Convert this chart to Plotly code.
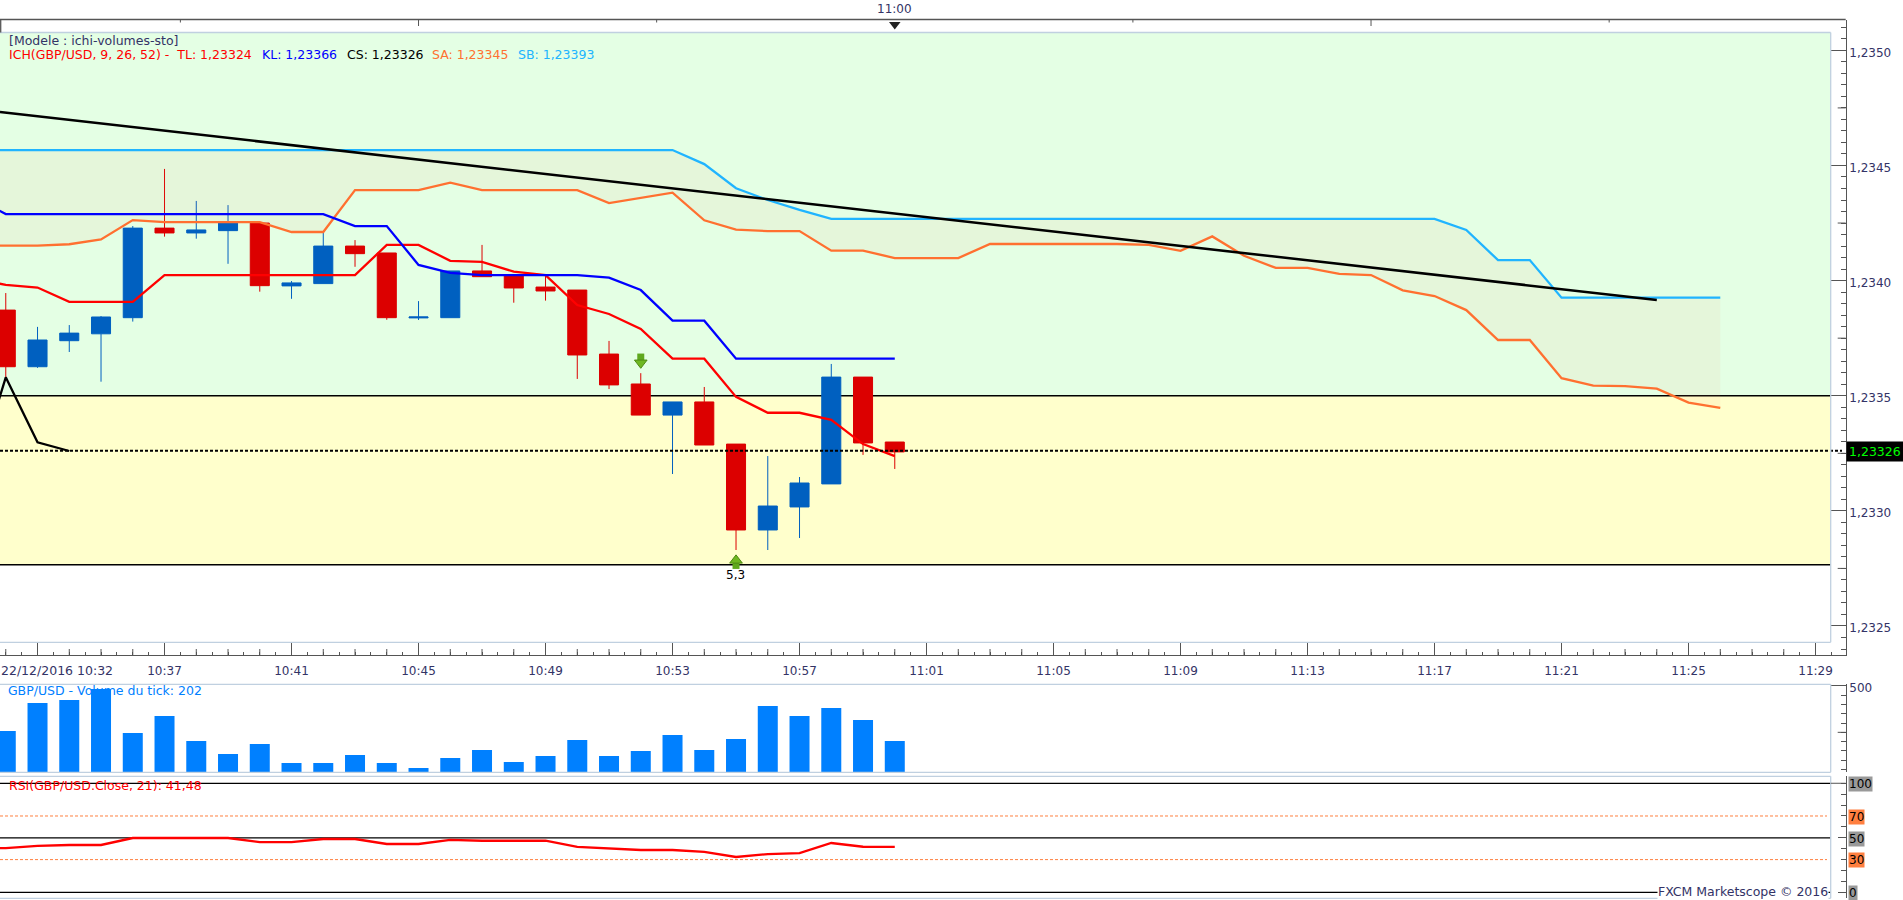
import pandas as pd
import plotly.graph_objects as go

W = 1903
H = 900
TEXT = "#333366"
AXIS = "#555555"
BORDER = "#C0D0E0"
FONT = "DejaVu Sans"

# candles, one per minute from 10:32 to 11:00
candle_open = [1.233872, 1.233626, 1.233739, 1.233769, 1.233839, 1.234228, 1.234207, 1.234217, 1.234250, 1.233977,
               1.233987, 1.234150, 1.234120, 1.233838, 1.233839, 1.234042, 1.234024, 1.233972, 1.233959, 1.233681,
               1.233551, 1.233416, 1.233473, 1.233290, 1.232917, 1.233017, 1.233117, 1.233581, 1.233299]
candle_high = [1.233946, 1.233799, 1.233807, 1.233846, 1.234237, 1.234485, 1.234346, 1.234328, 1.234250, 1.233998,
               1.234211, 1.234176, 1.234120, 1.233911, 1.234042, 1.234155, 1.234024, 1.234024, 1.233959, 1.233738,
               1.233598, 1.233473, 1.233538, 1.233290, 1.233238, 1.233147, 1.233638, 1.233581, 1.233299]
candle_low = [1.233568, 1.233621, 1.233690, 1.233561, 1.233822, 1.234191, 1.234182, 1.234073, 1.233952, 1.233921,
              1.233987, 1.234060, 1.233830, 1.233829, 1.233839, 1.234017, 1.233904, 1.233913, 1.233573, 1.233529,
              1.233416, 1.233160, 1.233286, 1.232830, 1.232830, 1.232882, 1.233117, 1.233243, 1.233182]
candle_close = [1.233626, 1.233742, 1.233772, 1.233842, 1.234228, 1.234207, 1.234220, 1.234250, 1.233978, 1.233990,
                1.234150, 1.234117, 1.233839, 1.233842, 1.234042, 1.234017, 1.233968, 1.233955, 1.233677, 1.233547,
                1.233416, 1.233473, 1.233286, 1.232917, 1.233021, 1.233121, 1.233581, 1.233295, 1.233256]

# ichimoku lines, first point 10:31 is off the left edge
tenkan = [1.234011, 1.233981, 1.233970, 1.233908, 1.233908, 1.233908, 1.234024, 1.234024, 1.234024, 1.234024,
          1.234024, 1.234024, 1.234024, 1.234155, 1.234155, 1.234086, 1.234081, 1.234039, 1.234024, 1.233894,
          1.233855, 1.233790, 1.233661, 1.233661, 1.233495, 1.233426, 1.233426, 1.233395, 1.233290, 1.233238]
kijun = [1.234363, 1.234289, 1.234289, 1.234289, 1.234289, 1.234289, 1.234289, 1.234289, 1.234289, 1.234289,
         1.234289, 1.234289, 1.234237, 1.234237, 1.234068, 1.234034, 1.234024, 1.234024, 1.234024, 1.234024,
         1.234013, 1.233959, 1.233826, 1.233826, 1.233661, 1.233661, 1.233661, 1.233661, 1.233661, 1.233661]
chikou = [1.233130, 1.233580, 1.233298, 1.233260]
senkou_a = [1.234152, 1.234152, 1.234152, 1.234158, 1.234179, 1.234263, 1.234254, 1.234254, 1.234254, 1.234254,
            1.234211, 1.234211, 1.234393, 1.234393, 1.234393, 1.234425, 1.234393, 1.234393, 1.234393, 1.234393,
            1.234337, 1.234359, 1.234382, 1.234262, 1.234221, 1.234215, 1.234215, 1.234130, 1.234130, 1.234098,
            1.234098, 1.234098, 1.234159, 1.234159, 1.234159, 1.234159, 1.234159, 1.234155, 1.234129, 1.234192,
            1.234108, 1.234055, 1.234055, 1.234029, 1.234024, 1.233958, 1.233933, 1.233872, 1.233742, 1.233742,
            1.233576, 1.233544, 1.233542, 1.233531, 1.233470, 1.233447]
senkou_b = [1.234567, 1.234567, 1.234567, 1.234567, 1.234567, 1.234567, 1.234567, 1.234567, 1.234567, 1.234567,
            1.234567, 1.234567, 1.234567, 1.234567, 1.234567, 1.234567, 1.234567, 1.234567, 1.234567, 1.234567,
            1.234567, 1.234567, 1.234567, 1.234506, 1.234401, 1.234350, 1.234307, 1.234268, 1.234268, 1.234268,
            1.234268, 1.234268, 1.234268, 1.234268, 1.234268, 1.234268, 1.234268, 1.234268, 1.234268, 1.234268,
            1.234268, 1.234268, 1.234268, 1.234268, 1.234268, 1.234268, 1.234268, 1.234220, 1.234089, 1.234089,
            1.233926, 1.233926, 1.233926, 1.233926, 1.233926, 1.233926]
trend_times = ["2016-12-22 10:31:49", "2016-12-22 11:24:00"]
trend_prices = [1.234732, 1.233916]

volume = [257, 408, 424, 484, 246, 338, 203, 133, 187, 85, 85, 128, 85, 58, 112, 155, 90, 122, 209, 122,
          149, 236, 155, 214, 392, 338, 381, 317, 203]
rsi = [40.6, 40.6, 42.5, 43.4, 43.4, 49.8, 49.8, 49.8, 49.8, 46.1, 46.1, 48.9, 48.9, 44.3, 44.3, 48.0, 47.3, 47.3,
       47.3, 41.6, 40.3, 38.8, 38.8, 37.0, 32.4, 35.1, 36.0, 45.2, 41.8, 41.6]

current_price = 1.233261
zone_levels = [1.2335, 1.232766]
zone_top = 1.235077
price_ticks = [1.2325, 1.2330, 1.2335, 1.2340, 1.2345, 1.2350]
price_labels = ["1,2325", "1,2330", "1,2335", "1,2340", "1,2345", "1,2350"]
price_mid_ticks = [1.23275, 1.23325, 1.23375, 1.23425, 1.23475]
time_labels = ["", "10:37", "10:41", "10:45", "10:49", "10:53", "10:57", "11:01", "11:05", "11:09",
               "11:13", "11:17", "11:21", "11:25", "11:29"]

bars = pd.date_range("2016-12-22 10:32", periods=29, freq="min")
lines = pd.date_range("2016-12-22 10:31", periods=30, freq="min")
cloud = pd.date_range("2016-12-22 10:31", periods=56, freq="min")
major = pd.date_range("2016-12-22 10:33", periods=15, freq="4min")
x_range = ["2016-12-22 10:31:49.1", "2016-12-22 11:29:57"]


def px_x(x):
    return x / W


def px_y(y):
    return 1 - y / H


def dom(top, bottom):
    return [px_y(bottom), px_y(top)]


fig = go.Figure()

# cloud, then the ichimoku lines
fig.add_trace(go.Scatter(x=cloud, y=senkou_a, mode="lines", line=dict(color="#FF7030", width=2.3)))
fig.add_trace(go.Scatter(x=cloud, y=senkou_b, mode="lines", line=dict(color="#20B4FF", width=2.3),
                         fill="tonexty", fillcolor="rgba(248,127,100,0.07)"))
fig.add_trace(go.Scatter(x=lines, y=tenkan, mode="lines", line=dict(color="#FF0000", width=2.3)))
fig.add_trace(go.Scatter(x=lines, y=kijun, mode="lines", line=dict(color="#0000FF", width=2.3)))
fig.add_trace(go.Scatter(x=lines[:4], y=chikou, mode="lines", line=dict(color="#000000", width=2.3)))

fig.add_trace(go.Candlestick(x=bars, open=candle_open, high=candle_high, low=candle_low, close=candle_close,
                             increasing=dict(line=dict(color="#0060C0", width=1), fillcolor="#0060C0"),
                             decreasing=dict(line=dict(color="#DC0000", width=1), fillcolor="#DC0000")))

fig.add_trace(go.Scatter(x=[x_range[0], "2016-12-22 11:29:50"], y=[current_price, current_price], mode="lines",
                         line=dict(color="#000000", width=2, dash="3px,2px")))
fig.add_trace(go.Scatter(x=trend_times, y=trend_prices, mode="lines", line=dict(color="#000000", width=2.5)))

# signal arrows, head + shaft
signal_times = ["2016-12-22 10:52", "2016-12-22 10:55"]
fig.add_trace(go.Scatter(x=signal_times, y=[1.233668, 1.232763], mode="markers",
                         marker=dict(symbol="square", size=7, color="#5FA81E", line=dict(width=0))))
fig.add_trace(go.Scatter(x=signal_times[:1], y=[1.233643], mode="markers",
                         marker=dict(symbol="triangle-down", size=11, color="#6FB822", line=dict(color="#4E8A14", width=1))))
fig.add_trace(go.Scatter(x=signal_times[1:], y=[1.232785], mode="markers",
                         marker=dict(symbol="triangle-up", size=11, color="#6FB822", line=dict(color="#4E8A14", width=1))))
# 11:00 marker in the top strip
fig.add_trace(go.Scatter(x=["2016-12-22 11:00"], y=[1.235112], mode="markers", cliponaxis=False,
                         marker=dict(symbol="triangle-down", size=10, color="#222222", line=dict(width=0))))

# volume caption sits under the bars, so the bars go on an overlay axis
fig.add_trace(go.Scatter(x=["2016-12-22 10:32:04"], y=[468], mode="text", text=["GBP/USD - Volume du tick: 202"],
                         textposition="middle right", textfont=dict(family=FONT, size=12.5, color="#0080FF"),
                         xaxis="x2", yaxis="y2"))
fig.add_trace(go.Bar(x=bars, y=volume, marker=dict(color="#0080FF", line=dict(width=0)), xaxis="x2", yaxis="y4"))

fig.add_trace(go.Scatter(x=lines, y=rsi, mode="lines", line=dict(color="#FF0000", width=2.3), xaxis="x3", yaxis="y3"))

shapes = []


def hline(y0, yref, color="#000000", width=1.3, dash="solid", x1=1830.7, layer="below"):
    shapes.append(dict(type="line", xref="paper", yref=yref, x0=0, x1=px_x(x1), y0=y0, y1=y0, layer=layer,
                       line=dict(color=color, width=width, dash=dash)))


def pline(x0, y0, x1, y1, color=BORDER, width=1.3):
    shapes.append(dict(type="line", xref="paper", yref="paper", x0=px_x(x0), x1=px_x(x1), y0=px_y(y0), y1=px_y(y1),
                       line=dict(color=color, width=width)))


def rtick(y0, yref, length):
    shapes.append(dict(type="line", xref="paper", yref=yref, x0=px_x(1845.7 - length), x1=px_x(1845.7), y0=y0, y1=y0,
                       line=dict(color=AXIS, width=1)))


# green and yellow zones
shapes.append(dict(type="rect", xref="paper", yref="y", x0=0, x1=px_x(1830.7), y0=zone_levels[0], y1=zone_top,
                   fillcolor="#E4FFE4", line=dict(width=0), layer="below"))
shapes.append(dict(type="rect", xref="paper", yref="y", x0=0, x1=px_x(1830.7), y0=zone_levels[1], y1=zone_levels[0],
                   fillcolor="#FFFFCC", line=dict(width=0), layer="below"))
for level in zone_levels:
    hline(level, "y")

# panel borders
for top, bottom in [(32.5, 642.3), (684.3, 772.3), (776.3, 898.3)]:
    pline(0, top, 1830.7, top)
    pline(1830.7, top, 1830.7, bottom)
    pline(0, bottom, 1830.7, bottom)

# top strip
pline(0, 19.5, 1845.7, 19.5, AXIS)
pline(0.7, 19.5, 0.7, 32.5, AXIS)
for i, t in enumerate(pd.date_range("2016-12-22 10:37:30", periods=7, freq="450s")):
    if i == 3:
        continue
    shapes.append(dict(type="line", xref="x", yref="paper", x0=t, x1=t, y0=px_y(19.5), y1=px_y(26 if i in (1, 5) else 22.5),
                       line=dict(color=AXIS, width=1)))

# minute ticks on the time axis (half minutes come from minor ticks)
for t in pd.date_range("2016-12-22 10:32", periods=58, freq="min"):
    if t not in major:
        shapes.append(dict(type="line", xref="x", yref="paper", x0=t, x1=t, y0=px_y(655), y1=px_y(649),
                           line=dict(color=AXIS, width=1)))

for p in price_mid_ticks:
    rtick(p, "y", 8)
rtick(250, "y2", 8)
rtick(100, "y3", 15)

# rsi levels
for level in [100, 50, 0]:
    hline(level, "y3")
for level in [70, 30]:
    hline(level, "y3", color="#FF7F3F", width=1, dash="3px,2px", x1=1827)

axis_style = dict(showgrid=False, zeroline=False, showline=True, linecolor=AXIS, linewidth=1.3, tickcolor=AXIS,
                  tickfont=dict(family=FONT, size=12, color=TEXT), side="right", ticks="inside", ticklabelshift=2)

fig.update_layout(
    width=W, height=H, margin=dict(l=0, r=0, t=0, b=0, autoexpand=False), showlegend=False,
    paper_bgcolor="#FFFFFF", plot_bgcolor="rgba(0,0,0,0)", boxgap=0.4, boxgroupgap=0, bargap=0.37,
    shapes=shapes,
    xaxis=dict(domain=[0, px_x(1845.7)], range=x_range, type="date", anchor="y", rangeslider=dict(visible=False),
               showgrid=False, zeroline=False, showline=True, linecolor=AXIS, linewidth=1.3,
               tickmode="array", tickvals=major, ticktext=time_labels, ticks="inside", ticklen=12.7, tickcolor=AXIS,
               tickfont=dict(family=FONT, size=12, color=TEXT), ticklabelstandoff=4,
               minor=dict(ticks="inside", ticklen=3, tickcolor=AXIS, dtick=30000, tick0="2016-12-22 10:32:00", showgrid=False)),
    xaxis2=dict(domain=[0, px_x(1845.7)], range=x_range, type="date", anchor="y2", matches="x", visible=False),
    xaxis3=dict(domain=[0, px_x(1845.7)], range=x_range, type="date", anchor="y3", matches="x", visible=False),
    yaxis=dict(domain=dom(19.5, 655), range=[1.232374, 1.235134], anchor="x", tickmode="array",
               tickvals=price_ticks, ticktext=price_labels, ticklen=15,
               minor=dict(ticks="inside", ticklen=4.3, tickcolor=AXIS, tick0=1.2325, dtick=0.00005, showgrid=False),
               **axis_style),
    yaxis2=dict(domain=dom(684.3, 772.3), range=[34.5, 509], anchor="x2", tickmode="array",
                tickvals=[500], ticktext=["500"], ticklen=15,
                minor=dict(ticks="inside", ticklen=4.3, tickcolor=AXIS, tick0=0, dtick=50, showgrid=False),
                **axis_style),
    yaxis3=dict(domain=dom(776.3, 898.3), range=[-5.5, 106.4], anchor="x3", tickmode="array",
                tickvals=[0, 50], ticktext=["", ""], ticklen=8,
                minor=dict(ticks="inside", ticklen=4.3, tickcolor=AXIS, tick0=0, dtick=10, showgrid=False),
                **axis_style),
    yaxis4=dict(domain=dom(684.3, 772.3), range=[34.5, 509], anchor="x2", overlaying="y2", visible=False),
)


def note(x, y, text, color=TEXT, anchor="left", bg=None, size=12.5, pad=0):
    fig.add_annotation(xref="paper", yref="paper", x=px_x(x), y=px_y(y), text=text, showarrow=False, xanchor=anchor,
                       yanchor="middle", align=anchor, borderpad=pad, bgcolor=bg,
                       font=dict(family=FONT, size=size, color=color))


note(8, 40.7, "[Modele : ichi-volumes-sto]")
note(8, 54.7, "ICH(GBP/USD, 9, 26, 52) -  TL: 1,23324", "#FF0000")
note(261, 54.7, "KL: 1,23366", "#0000FF")
note(346, 54.7, "CS: 1,23326", "#000000")
note(431, 54.7, "SA: 1,23345", "#FF7030")
note(517, 54.7, "SB: 1,23393", "#20B4FF")
note(894, 9.5, "11:00", anchor="center", size=12)
note(735, 575, "5,3", "#000000", anchor="center", size=12)
note(-0.5, 670.5, "22/12/2016 10:32")
note(1846, 451.5, "1,23326", "#00FF00", bg="#000000", pad=2, size=12.5)
note(8, 785, "RSI(GBP/USD.Close, 21): 41,48", "#FF0000")
note(1829, 891.7, "FXCM Marketscope © 2016", anchor="right", bg="#FFFFFF")
note(1848, 784, "100", "#000000", bg="#999999", size=12)
note(1848, 817, "70", "#000000", bg="#FF7F3F", size=12)
note(1848, 839.3, "50", "#000000", bg="#999999", size=12)
note(1848, 860, "30", "#000000", bg="#FF7F3F", size=12)
note(1848, 893, "0", "#000000", bg="#999999", size=12)

fig.write_html("out.html", config=dict(displayModeBar=False),
               post_script="document.body.style.margin='0';document.body.style.overflow='hidden';")
